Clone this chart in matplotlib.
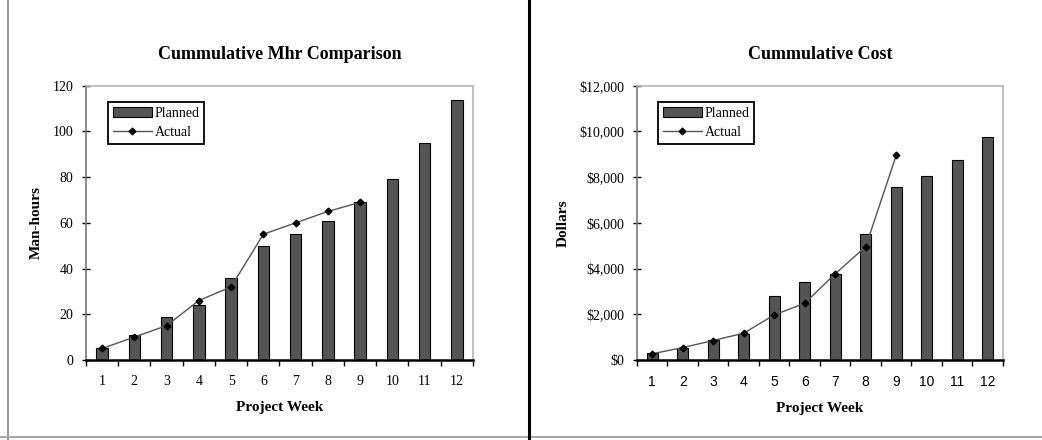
import matplotlib
matplotlib.use('Agg')
import matplotlib.pyplot as plt
from matplotlib.ticker import FuncFormatter
import numpy as np

weeks = ['1', '2', '3', '4', '5', '6', '7', '8', '9', '10', '11', '12']

mhr_planned = [5, 11, 19, 24, 36, 50, 55, 61, 69, 79, 95, 114]
mhr_actual = [5, 10, 15, 26, 32, 55, 60, 65, 69]

cost_planned = [300, 520, 880, 1150, 2800, 3430, 3780, 5520, 7560, 8030, 8760, 9780]
cost_actual = [270, 540, 850, 1170, 1970, 2480, 3770, 4960, 8950]

plt.rcParams['font.family'] = ['Liberation Serif', 'DejaVu Serif']

BAR = '#545454'
LINE = '#555555'

fig = plt.figure(figsize=(10.42, 4.4), dpi=100)

# panel frames and the divider between the two charts
fig.add_artist(plt.Line2D([0.0075, 0.0075], [0.0, 1.0], color='#999999', lw=1.5))
fig.add_artist(plt.Line2D([0.0, 1.0], [0.006, 0.006], color='#aaaaaa', lw=1.5))
fig.add_artist(plt.Line2D([0.508, 0.508], [0.0, 1.0], color='black', lw=2.2))


def draw_panel(ax, planned, actual, title, ylabel, ymax, ystep, fmt, tick_family):
    x = np.arange(len(weeks))
    bars = ax.bar(x, planned, width=0.36, color=BAR, edgecolor='black',
                  linewidth=0.8, zorder=2)
    xa = np.arange(len(actual))
    line, = ax.plot(xa, actual, color=LINE, lw=1.0, marker='D', markersize=3.4,
                    markerfacecolor='black', markeredgecolor='black', zorder=3)

    ax.set_xlim(-0.5, len(weeks) - 0.5)
    ax.set_ylim(0, ymax)
    ax.set_yticks(np.arange(0, ymax + 1, ystep))
    ax.yaxis.set_major_formatter(FuncFormatter(fmt))

    # category labels centred, tick marks between categories
    ax.set_xticks(x)
    ax.set_xticklabels(weeks, family=tick_family)
    ax.set_xticks(np.arange(-0.5, len(weeks), 1), minor=True)
    ax.tick_params(axis='x', which='major', length=0, pad=11, labelsize=10)
    ax.tick_params(axis='x', which='minor', direction='out', length=4, width=1.0)
    ax.tick_params(axis='y', direction='inout', length=6, width=1.0,
                   labelsize=10, pad=6)

    for side in ('top', 'right'):
        ax.spines[side].set_color('#b5b5b5')
        ax.spines[side].set_linewidth(1.2)
    ax.spines['left'].set_color('#777777')
    ax.spines['left'].set_linewidth(1.2)
    ax.spines['bottom'].set_color('black')
    ax.spines['bottom'].set_linewidth(1.8)
    ax.spines['bottom'].set_zorder(4)

    ax.set_title(title, fontsize=13, fontweight='bold', pad=19)
    ax.set_xlabel('Project Week', fontsize=11, fontweight='bold', labelpad=9)
    ax.set_ylabel(ylabel, fontsize=11, fontweight='bold', labelpad=7)

    leg = ax.legend([bars, line], ['Planned', 'Actual'],
                    loc='upper left', bbox_to_anchor=(0.057, 0.94),
                    borderaxespad=0, fancybox=False, framealpha=1,
                    edgecolor='black', fontsize=10, handlelength=2.8,
                    handletextpad=0.2, borderpad=0.35, labelspacing=0.4)
    leg.get_frame().set_linewidth(1.3)


ax1 = fig.add_axes([0.0825, 0.182, 0.3714, 0.623])
draw_panel(ax1, mhr_planned, mhr_actual, 'Cummulative Mhr Comparison',
           'Man-hours', 120, 20, lambda v, p: '%d' % v, 'Liberation Serif')

ax2 = fig.add_axes([0.6113, 0.182, 0.3512, 0.623])
draw_panel(ax2, cost_planned, cost_actual, 'Cummulative Cost',
           'Dollars', 12000, 2000, lambda v, p: '${:,.0f}'.format(v),
           'Liberation Sans')

fig.savefig('out.png', dpi=100)
